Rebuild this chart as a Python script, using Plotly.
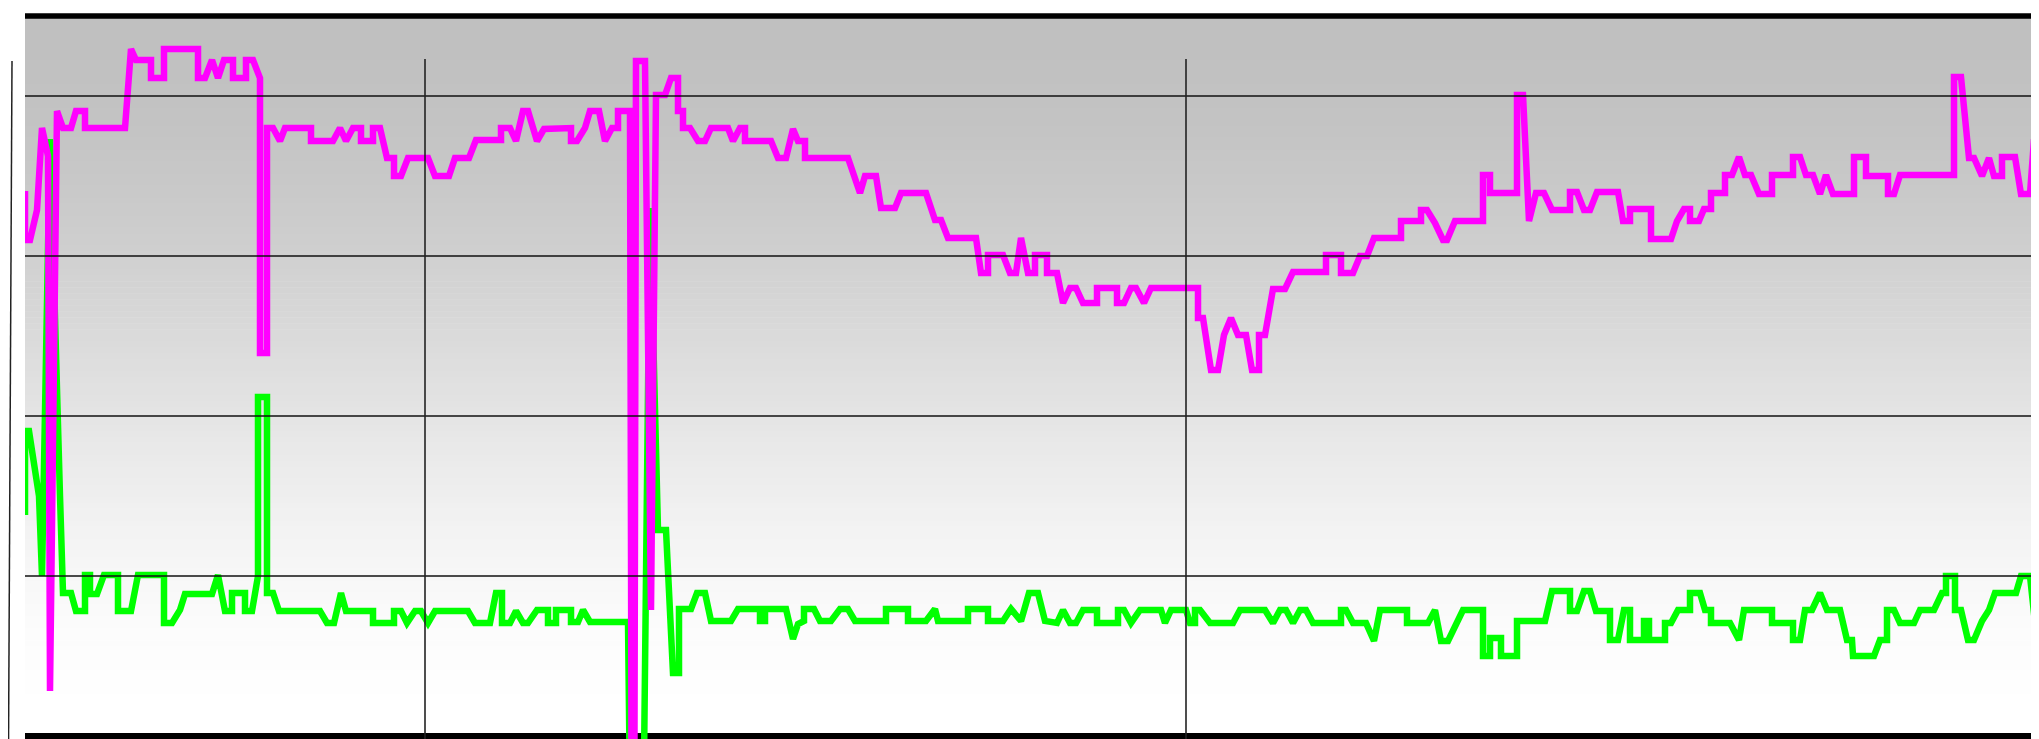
import plotly.graph_objects as go

# ---- data (x: sample position, y: signal level) ----
magenta_x = [0, 0, 5, 12, 17, 23, 25, 32, 38, 46, 51, 60, 60, 100, 106, 111, 126, 126, 139, 139,
             173, 173, 180, 187, 193, 199, 208, 208, 221, 221, 228, 235, 235, 242, 242, 248, 255, 260, 286, 286,
             308, 315, 321, 328, 336, 336, 348, 348, 355, 362, 369, 369, 376, 383, 403, 410, 424, 430, 444, 451,
             476, 476, 485, 491, 498, 503, 512, 519, 546, 546, 552, 560, 565, 574, 580, 587, 593, 593, 605, 608,
             611, 620, 626, 631, 640, 646, 653, 653, 658, 658, 665, 673, 680, 686, 703, 708, 715, 720, 720, 746,
             753, 761, 768, 773, 780, 780, 823, 835, 840, 851, 856, 870, 876, 901, 910, 916, 923, 951, 956, 963,
             963, 978, 985, 991, 996, 1003, 1010, 1010, 1022, 1022, 1032, 1038, 1045, 1051, 1058, 1072, 1072, 1092, 1092, 1099,
             1106, 1111, 1119, 1126, 1173, 1173, 1178, 1186, 1193, 1199, 1206, 1213, 1221, 1227, 1234, 1234, 1240, 1248, 1260, 1268,
             1301, 1301, 1316, 1316, 1328, 1335, 1342, 1349, 1376, 1376, 1396, 1396, 1402, 1410, 1418, 1422, 1430, 1458, 1458, 1465,
             1465, 1492, 1492, 1498, 1504, 1511, 1519, 1527, 1545, 1545, 1552, 1559, 1565, 1572, 1593, 1598, 1605, 1605, 1626, 1626,
             1646, 1652, 1659, 1665, 1665, 1674, 1679, 1686, 1686, 1700, 1700, 1707, 1714, 1720, 1726, 1734, 1747, 1747, 1768, 1768,
             1775, 1781, 1788, 1795, 1801, 1808, 1829, 1829, 1841, 1841, 1863, 1863, 1869, 1875, 1929, 1929, 1936, 1944, 1949, 1957,
             1964, 1969, 1977, 1977, 1990, 1996, 2005, 2009, 2016]
magenta_y = [545, 496, 496, 526, 608, 580, 45, 625, 608, 608, 625, 625, 608, 608, 687, 676, 676, 658, 658, 687,
             687, 658, 658, 676, 658, 676, 676, 658, 658, 676, 676, 658, 383, 383, 608, 608, 595, 608, 608, 595,
             595, 608, 595, 608, 608, 595, 595, 608, 608, 578, 578, 560, 560, 578, 578, 560, 560, 578, 578, 596,
             596, 608, 608, 595, 625, 625, 595, 607, 608, 595, 595, 608, 625, 625, 595, 608, 608, 625, 625, -672,
             675, 675, 126, 641, 641, 658, 658, 625, 625, 608, 608, 595, 595, 608, 608, 595, 608, 608, 595, 595,
             578, 578, 607, 595, 595, 578, 578, 543, 560, 560, 528, 528, 543, 543, 516, 516, 498, 498, 463, 463,
             481, 481, 463, 463, 498, 463, 463, 481, 481, 463, 463, 433, 448, 448, 433, 433, 448, 448, 433, 433,
             448, 448, 433, 448, 448, 418, 418, 366, 366, 401, 418, 401, 401, 366, 366, 401, 401, 447, 447, 464,
             464, 481, 481, 463, 463, 480, 480, 498, 498, 515, 515, 526, 526, 513, 496, 496, 515, 515, 561, 561,
             543, 543, 641, 641, 515, 543, 543, 526, 526, 544, 544, 526, 526, 544, 544, 515, 515, 527, 527, 497,
             497, 515, 527, 527, 515, 515, 527, 527, 543, 543, 561, 561, 579, 561, 561, 542, 542, 561, 561, 579,
             579, 561, 561, 542, 561, 542, 542, 579, 579, 560, 560, 542, 542, 561, 561, 659, 659, 578, 578, 560,
             578, 560, 560, 579, 579, 542, 542, 596, 608]

green_x = [0, 0, 4, 14, 17, 25, 35, 38, 46, 51, 60, 60, 65, 65, 72, 79, 93, 93, 106, 113,
           139, 139, 147, 155, 160, 187, 193, 200, 207, 207, 220, 220, 227, 233, 233, 242, 242, 248, 254, 295,
           302, 309, 316, 321, 348, 348, 369, 369, 376, 382, 390, 396, 403, 410, 443, 450, 465, 471, 477, 477,
           485, 491, 498, 503, 512, 523, 523, 531, 531, 546, 546, 553, 558, 565, 603, 612, 625, 633, 641, 648,
           654, 654, 666, 672, 680, 686, 706, 713, 735, 735, 740, 740, 761, 768, 773, 779, 779, 789, 795, 806,
           815, 823, 830, 861, 861, 883, 883, 901, 910, 913, 943, 943, 963, 963, 978, 986, 996, 1004, 1013, 1020,
           1032, 1038, 1045, 1051, 1058, 1072, 1072, 1093, 1093, 1099, 1106, 1115, 1136, 1140, 1146, 1161, 1165, 1170, 1170, 1175,
           1185, 1208, 1215, 1240, 1248, 1255, 1261, 1268, 1275, 1281, 1288, 1316, 1316, 1321, 1328, 1341, 1349, 1355, 1382, 1382,
           1403, 1410, 1416, 1423, 1438, 1458, 1458, 1465, 1465, 1476, 1476, 1492, 1492, 1520, 1527, 1545, 1545, 1552, 1559, 1565,
           1571, 1585, 1585, 1593, 1599, 1605, 1605, 1619, 1619, 1624, 1624, 1640, 1640, 1646, 1653, 1665, 1665, 1675, 1680, 1686,
           1686, 1705, 1714, 1719, 1747, 1747, 1768, 1768, 1775, 1780, 1787, 1795, 1802, 1815, 1822, 1827, 1828, 1849, 1855, 1862,
           1862, 1869, 1875, 1889, 1895, 1909, 1917, 1921, 1921, 1930, 1930, 1936, 1943, 1949, 1957, 1964, 1970, 1991, 1996, 2005,
           2010, 2016]
green_y = [221, 305, 305, 240, 160, 597, 240, 143, 143, 125, 125, 161, 161, 142, 142, 161, 161, 125, 125, 161,
           161, 113, 113, 126, 142, 142, 161, 125, 125, 143, 143, 125, 125, 160, 339, 339, 143, 143, 125, 125,
           113, 113, 143, 125, 125, 113, 113, 125, 125, 113, 125, 125, 113, 125, 125, 113, 113, 143, 143, 113,
           113, 125, 113, 113, 126, 126, 113, 113, 126, 126, 114, 114, 126, 114, 114, -672, 528, 206, 206, 63,
           63, 127, 127, 143, 143, 115, 115, 127, 127, 115, 115, 127, 127, 97, 112, 115, 127, 127, 115, 115,
           127, 127, 115, 115, 127, 127, 115, 115, 127, 115, 115, 127, 127, 115, 115, 127, 115, 143, 143, 115,
           113, 126, 113, 113, 126, 126, 113, 113, 126, 126, 113, 126, 126, 113, 126, 126, 113, 113, 126, 126,
           113, 113, 126, 126, 113, 126, 126, 113, 126, 126, 113, 113, 126, 126, 113, 113, 95, 126, 126, 113,
           113, 126, 95, 95, 126, 126, 80, 80, 98, 98, 80, 80, 115, 115, 145, 145, 125, 125, 145, 145,
           125, 125, 96, 96, 126, 126, 96, 96, 115, 115, 96, 96, 113, 113, 126, 126, 143, 143, 126, 126,
           113, 113, 96, 126, 126, 113, 113, 96, 96, 126, 126, 143, 126, 126, 96, 96, 80, 80, 96, 96,
           126, 126, 113, 113, 126, 126, 143, 143, 160, 160, 126, 126, 96, 96, 115, 126, 143, 143, 160, 160,
           113, 113]

hgrid_values = [160, 320, 480, 640]
vgrid_values = [400, 1161]

X_MIN, X_MAX = 0, 2016
Y_MIN, Y_MAX = -11, 728

fig = go.Figure()

fig.add_trace(go.Scatter(x=green_x, y=green_y, mode="lines",
                         line=dict(color="#00ff00", width=6.5), hoverinfo="skip", showlegend=False))
fig.add_trace(go.Scatter(x=magenta_x, y=magenta_y, mode="lines",
                         line=dict(color="#ff00ff", width=6.5), hoverinfo="skip", showlegend=False))

shapes = []
# vertical gradient background (grey at top, white at bottom, eased)
g_top, g_bot, n = 718, 0, 120
step = (g_top - g_bot) / n
for i in range(n):
    t = i / (n - 1)
    s = 3 * t * t - 2 * t * t * t
    c = int(round(192 + (255 - 192) * s))
    y1 = g_top - i * step
    y0 = y1 - step - 0.6
    shapes.append(dict(type="rect", xref="x", yref="y", x0=X_MIN, x1=X_MAX, y0=y0, y1=y1,
                       fillcolor=f"rgb({c},{c},{c})", line=dict(width=0), layer="below"))
# thick frame lines top and bottom
for yv, w in ((0, 6), (720, 5.5)):
    shapes.append(dict(type="line", xref="x", yref="y", x0=X_MIN, x1=X_MAX, y0=yv, y1=yv,
                       line=dict(color="black", width=w), layer="below"))
# grid lines drawn over the data
for yv in hgrid_values:
    shapes.append(dict(type="line", xref="x", yref="y", x0=X_MIN, x1=X_MAX, y0=yv, y1=yv,
                       line=dict(color="#111111", width=1.3), layer="above"))
for xv in vgrid_values:
    shapes.append(dict(type="line", xref="x", yref="y", x0=xv, x1=xv, y0=Y_MIN, y1=677,
                       line=dict(color="#222222", width=1.6), layer="above"))
# thin slanted line at far left
shapes.append(dict(type="line", xref="paper", yref="paper", x0=-13 / 2016, x1=-16.5 / 2016,
                   y0=(739 - 53) / 739, y1=0, line=dict(color="#222222", width=1.5)))

fig.update_layout(
    width=2039, height=739, autosize=False,
    margin=dict(l=17, r=6, t=0, b=0, pad=0),
    paper_bgcolor="white", plot_bgcolor="white",
    showlegend=False, shapes=shapes,
    xaxis=dict(range=[X_MIN, X_MAX], visible=False, fixedrange=True),
    yaxis=dict(range=[Y_MIN, Y_MAX], visible=False, fixedrange=True),
)

fig.write_html("out.html")
